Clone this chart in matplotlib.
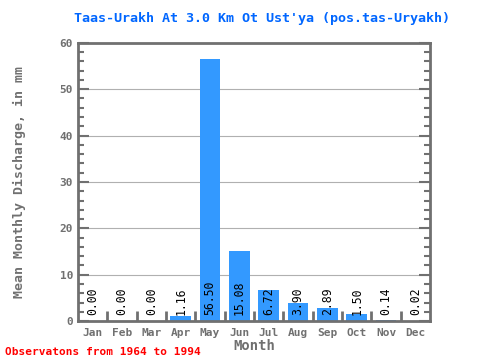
import matplotlib
matplotlib.use("Agg")
import matplotlib.pyplot as plt
from matplotlib.ticker import MultipleLocator

months = ['Jan', 'Feb', 'Mar', 'Apr', 'May', 'Jun', 'Jul', 'Aug', 'Sep', 'Oct', 'Nov', 'Dec']
discharge = [0.00, 0.00, 0.00, 1.16, 56.50, 15.08, 6.72, 3.90, 2.89, 1.50, 0.14, 0.02]
labels = ['0.00', '0.00', '0.00', '1.16', '56.50', '15.08', '6.72', '3.90', '2.89', '1.50', '0.14', '0.02']

gray = '#707070'
mono = 'DejaVu Sans Mono'

fig = plt.figure(figsize=(4.8, 3.6), dpi=100)
ax = fig.add_axes([0.1625, 0.108, 0.7335, 0.773])

x = list(range(len(months)))
ax.bar(x, discharge, width=0.7, color='#3399ff', zorder=2)
for i, lab in enumerate(labels):
    ax.text(i, 1.3, lab, rotation=90, ha='center', va='bottom',
            fontsize=8.3, family=mono, color='black', zorder=3)

ax.set_xlim(-0.5, 11.5)
ax.set_ylim(0, 60)
ax.yaxis.set_major_locator(MultipleLocator(10))
ax.yaxis.set_minor_locator(MultipleLocator(2))
ax.grid(axis='y', which='major', color='#b0b0b0', linewidth=0.8, zorder=1)

ax.set_xticks(x)
ax.set_xticklabels(months)
ax.set_xticks([i + 0.5 for i in range(11)], minor=True)
ax.tick_params(axis='x', which='major', length=0, pad=5)
ax.tick_params(axis='x', which='minor', direction='in', length=7, width=2, color=gray)
ax.tick_params(axis='y', which='both', direction='in', right=True, color=gray, width=1.5)
ax.tick_params(axis='y', which='major', length=8)
ax.tick_params(axis='y', which='minor', length=4)
ax.tick_params(labelsize=8, labelcolor=gray)
for lab in ax.get_xticklabels() + ax.get_yticklabels():
    lab.set_family(mono)
    lab.set_fontweight('bold')

for s in ax.spines.values():
    s.set_color(gray)
    s.set_linewidth(2)

ax.set_xlabel('Month', family=mono, fontsize=10, fontweight='bold', color=gray, labelpad=1)
ax.set_ylabel('Mean Monthly Discharge, in mm', family=mono, fontsize=9.5, fontweight='bold',
              color=gray, labelpad=24)
fig.text(0.545, 0.948, "Taas-Urakh At 3.0 Km Ot Ust'ya (pos.tas-Uryakh)", ha='center', va='center',
         family=mono, fontsize=9.6, fontweight='bold', color='#0066ff')
fig.text(0.01, 0.022, 'Observatons from 1964 to 1994', ha='left', va='center',
         family=mono, fontsize=8, fontweight='bold', color='red')

fig.savefig('out.png', dpi=100)
